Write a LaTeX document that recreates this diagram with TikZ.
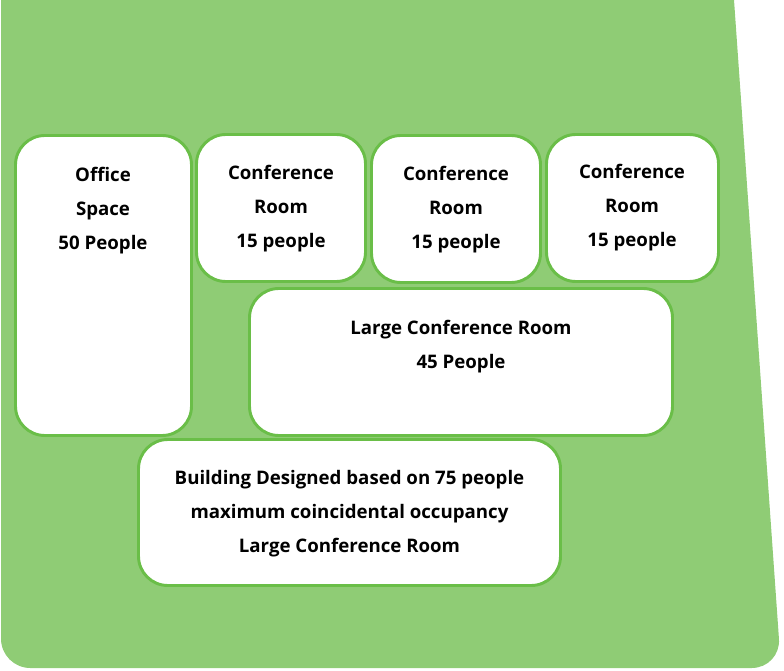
\documentclass[tikz,border=0pt]{standalone}
\usepackage{fontspec}
\setmainfont{Open Sans}
\usetikzlibrary{positioning}
\definecolor{leafgreen}{RGB}{143,204,117}
\definecolor{edgegreen}{RGB}{106,190,72}
\tikzset{
  room/.style={draw=edgegreen, line width=2.2pt, fill=white, rounded corners=22pt, inner sep=0pt},
  roomtext/.style={align=center, font=\fontsize{14}{25.5}\selectfont\bfseries}
}

\begin{document}
\begin{tikzpicture}[x=0.75pt,y=-0.75pt]
    \useasboundingbox (0,0) rectangle (784,670);

    % Backdrop
    \fill[leafgreen] (1,0) -- (734,0) [rounded corners=22pt] -- (781,668) -- (1,668) [sharp corners] -- cycle;

    % Rooms
    \node[room, minimum width=132pt, minimum height=225pt] (office) at (103.5,285.5) {};
    \node[room, minimum width=126.75pt, minimum height=110.25pt] (confA) at (281,208) {};
    \node[room, minimum width=126.75pt, minimum height=110.25pt] (confB) at (456,209) {};
    \node[room, minimum width=129pt, minimum height=110.25pt] (confC) at (632.5,208) {};
    \node[room, minimum width=317.25pt, minimum height=110.25pt] (large) at (461,362) {};
    \node[room, minimum width=316.5pt, minimum height=109.5pt] (building) at (349.5,512.5) {};

    % Labels
    \node[roomtext] (officetext) at (103,211) {Office\\Space\\50 People};
    \node[roomtext] (confAtext) at (281,209) {Conference\\Room\\15 people};
    \node[roomtext] (confBtext) at (456,210) {Conference\\Room\\15 people};
    \node[roomtext] (confCtext) at (632,208) {Conference\\Room\\15 people};
    \node[roomtext] (largetext) at (461,346.5) {Large Conference Room\\45 People};
    \node[roomtext] (buildingtext) at (349.5,514) {Building Designed based on 75 people\\maximum coincidental occupancy\\Large Conference Room};

\end{tikzpicture}
\end{document}
